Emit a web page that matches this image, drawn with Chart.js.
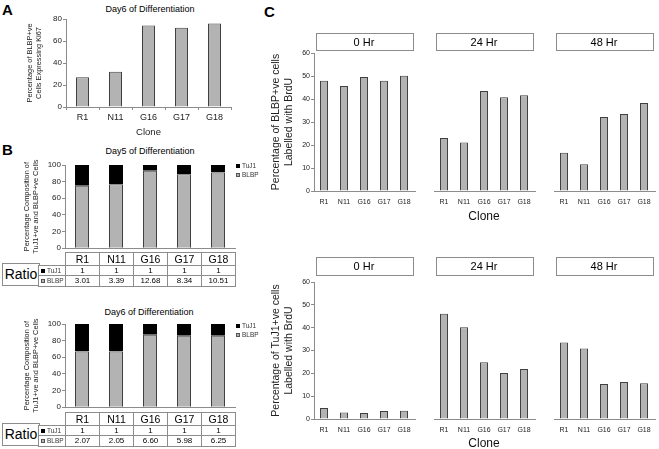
<!DOCTYPE html>
<html>
<head>
<meta charset="utf-8">
<script src="https://cdn.jsdelivr.net/npm/chart.js@4/dist/chart.umd.min.js"></script>
<style>
  body { margin: 0; background: #fff; width: 659px; height: 449px; position: relative; overflow: hidden;
         font-family: "Liberation Sans", Arial, sans-serif; color: #000; }
  canvas { position: absolute; }
  .letter { position: absolute; font-weight: bold; font-size: 15px; line-height: 15px; }
  .ttl { position: absolute; font-size: 9px; line-height: 10px; text-align: center; width: 140px; }
  .cell { position: absolute; box-sizing: border-box; border: 1px solid #8c8c8c; text-align: center; background: #fff; }
  .leg { position: absolute; font-size: 6.5px; line-height: 9px; color: #333; }
  .sw { display: inline-block; width: 4px; height: 4px; margin-right: 2px; vertical-align: 0; box-sizing: border-box; }
  .sw.t { background: #000; }
  .sw.b { background: #b3b3b3; border: 1px solid #555; }
</style>
</head>
<body>
<div class="letter" style="left:2px;top:2px">A</div>
<div class="letter" style="left:2px;top:142px">B</div>
<div class="letter" style="left:264px;top:4px">C</div>
<div class="ttl" style="left:80px;top:4px">Day6 of Differentiation</div>
<div class="ttl" style="left:80px;top:146px">Day5 of Differentiation</div>
<div class="ttl" style="left:79px;top:307px">Day6 of Differentiation</div>

<canvas id="chartA"></canvas>
<canvas id="chartB5"></canvas>
<canvas id="chartB6"></canvas>
<canvas id="chartC1"></canvas>
<canvas id="chartC2"></canvas>

<script>
const clones = ["R1", "N11", "G16", "G17", "G18"];
const timepoints = ["0 Hr", "24 Hr", "48 Hr"];

// A: % BLBP+ve cells expressing Ki67, day 6
const ki67Day6 = [27, 32, 74, 72, 76];

// B: composition (%) and ratio rows
const blbpDay5 = [75, 77, 93, 89, 91];
const tuj1Day5 = [25, 23, 7, 11, 9];
const ratioTuj1Day5 = ["1", "1", "1", "1", "1"];
const ratioBlbpDay5 = ["3.01", "3.39", "12.68", "8.34", "10.51"];
const blbpDay6 = [67, 67, 87, 86, 86];
const tuj1Day6 = [33, 33, 13, 14, 14];
const ratioTuj1Day6 = ["1", "1", "1", "1", "1"];
const ratioBlbpDay6 = ["2.07", "2.05", "6.60", "5.98", "6.25"];

// C: % labelled with BrdU at each time point
const brduBlbp0 = [47.9, 45.7, 49.6, 47.9, 50.1];
const brduBlbp24 = [23.0, 21.1, 43.5, 40.8, 41.6];
const brduBlbp48 = [16.6, 11.6, 32.2, 33.5, 38.3];
const brduTuj0 = [4.8, 2.9, 2.6, 3.5, 3.6];
const brduTuj24 = [46.1, 40.2, 24.9, 20.1, 21.9];
const brduTuj48 = [33.5, 30.9, 15.3, 16.2, 15.7];

const GREY = "#b3b3b3";
const EDGE = "#404040";
const AXIS = "#8c8c8c";

Chart.defaults.font.family = "'Liberation Sans', Arial, sans-serif";
Chart.defaults.color = "#222";
Chart.defaults.animation = false;
Chart.defaults.plugins.legend.display = false;
Chart.defaults.plugins.tooltip.enabled = false;

function place(id, left, top, width, height) {
  const c = document.getElementById(id);
  c.style.left = left + "px";
  c.style.top = top + "px";
  c.width = width;
  c.height = height;
  return c;
}

function cell(x, y, w, h, text, size, extra) {
  const d = document.createElement("div");
  d.className = "cell";
  d.style.cssText = `left:${x}px;top:${y}px;width:${w + 1}px;height:${h + 1}px;font-size:${size}px;line-height:${h - 1}px;` + (extra || "");
  d.innerHTML = text;
  document.body.appendChild(d);
}

// ratio table under each B chart, columns lined up with the bars
function ratioTable(top, tujRow, blbpRow) {
  const x0 = 65, colW = 34;
  cell(2, top + 11, 37, 22, "Ratio", 14);
  cell(38, top + 13, 27, 10, '<span class="sw t"></span>TuJ1', 6.5, "text-align:left;padding-left:2px;color:#333;");
  cell(38, top + 23, 27, 11, '<span class="sw b"></span>BLBP', 6.5, "text-align:left;padding-left:2px;color:#333;");
  clones.forEach((c, i) => {
    cell(x0 + i * colW, top, colW, 13, c, 10.5);
    cell(x0 + i * colW, top + 13, colW, 10, tujRow[i], 8);
    cell(x0 + i * colW, top + 23, colW, 11, blbpRow[i], 8);
  });
}

function legendB(top) {
  const d = document.createElement("div");
  d.className = "leg";
  d.style.left = "236px";
  d.style.top = top + "px";
  d.innerHTML = '<span class="sw t"></span>TuJ1<br><span class="sw b"></span>BLBP';
  document.body.appendChild(d);
}

// facet header boxes + broken x axis for panel C
const facetPlugin = {
  id: "facets",
  afterDraw(chart, args, opts) {
    const { ctx, chartArea, scales: { x } } = chart;
    const slot = x.getPixelForValue(1) - x.getPixelForValue(0);
    ctx.save();
    opts.groups.forEach((g, i) => {
      const a = x.getPixelForValue(g[0]) - slot / 2;
      const b = x.getPixelForValue(g[1]) + slot / 2;
      ctx.strokeStyle = AXIS;
      ctx.lineWidth = 1;
      ctx.beginPath();
      ctx.moveTo(a, chartArea.bottom + 0.5);
      ctx.lineTo(b + 2, chartArea.bottom + 0.5);
      ctx.stroke();
      const y1 = chartArea.top - opts.gap - opts.height;
      ctx.fillStyle = "#fff";
      ctx.fillRect(a + 2, y1, b - a - 3, opts.height);
      ctx.strokeRect(Math.round(a + 2) + 0.5, Math.round(y1) + 0.5, Math.round(b - a - 3), opts.height);
      ctx.fillStyle = "#000";
      ctx.font = "11px 'Liberation Sans', Arial, sans-serif";
      ctx.textAlign = "center";
      ctx.textBaseline = "middle";
      ctx.fillText(opts.labels[i], (a + b) / 2, y1 + opts.height / 2 + 1);
    });
    ctx.restore();
  }
};

function yAxis(max, step, size, title, titleSize, width) {
  return {
    min: 0, max: max,
    ticks: { stepSize: step, font: { size: size }, padding: 1, color: "#222" },
    grid: { drawOnChartArea: false, tickLength: 3, color: AXIS },
    border: { color: AXIS },
    title: { display: true, text: title, font: { size: titleSize }, padding: 0, color: "#222" },
    afterFit: s => { s.width = width; }
  };
}

// ---- A  (plot 66..231, 33px per clone, 13px bars)
new Chart(place("chartA", 0, 0, 236, 140), {
  type: "bar",
  data: {
    labels: clones,
    datasets: [{ data: ki67Day6, backgroundColor: GREY, borderColor: EDGE, borderWidth: 1,
                 barPercentage: 13 / 33, categoryPercentage: 1 }]
  },
  options: {
    responsive: false,
    layout: { padding: { left: 26, top: 19, right: 5, bottom: 0 } },
    scales: {
      x: {
        grid: { drawOnChartArea: false, tickLength: 3, color: AXIS },
        border: { color: AXIS },
        ticks: { font: { size: 9 }, padding: 2, color: "#222" },
        title: { display: true, text: "Clone", font: { size: 9.5 }, padding: { top: 0, bottom: 2 }, color: "#222" },
        afterFit: s => { s.height = 33; }
      },
      y: yAxis(80, 20, 8, ["Percentage of BLBP+ve", "Cells Expressing Ki67"], 7.4, 40)
    }
  }
});

// ---- B  (plot 65..235, 34px per clone, 14px bars)
function compositionChart(id, top, padTop, blbp, tuj1) {
  new Chart(place(id, 0, top, 236, padTop + 89), {
    type: "bar",
    data: {
      labels: clones,
      datasets: [
        { label: "BLBP", data: blbp, backgroundColor: GREY, borderColor: EDGE, borderWidth: 1,
          barPercentage: 14 / 34, categoryPercentage: 1 },
        { label: "TuJ1", data: tuj1, backgroundColor: "#000", borderColor: "#000", borderWidth: 1,
          barPercentage: 14 / 34, categoryPercentage: 1 }
      ]
    },
    options: {
      responsive: false,
      layout: { padding: { left: 23, top: padTop, right: 1, bottom: 0 } },
      scales: {
        x: {
          stacked: true,
          ticks: { display: false },
          grid: { display: false },
          border: { color: AXIS },
          afterFit: s => { s.height = 2; }
        },
        y: Object.assign(yAxis(100, 20, 8, ["Percentage Composition of", "TuJ1+ve and BLBP+ve Cells"], 7.4, 42), { stacked: true })
      }
    }
  });
}
compositionChart("chartB5", 140, 25, blbpDay5, tuj1Day5);
compositionChart("chartB6", 300, 24, blbpDay6, tuj1Day6);
ratioTable(252, ratioTuj1Day5, ratioBlbpDay5);
ratioTable(412, ratioTuj1Day6, ratioBlbpDay6);
legendB(161);
legendB(321);

// ---- C  (plot 314..654, 20px per slot, 8px bars)
const cLabels = [...clones, "", ...clones, "", ...clones];
const facetGroups = [[0, 4], [6, 10], [12, 16]];
function gapped(a, b, c) { return [...a, null, ...b, null, ...c]; }

function brduChart(id, top, height, padTop, xHeight, gap, boxH, titleBottom, values, title) {
  new Chart(place(id, 220, top, 439, height), {
    type: "bar",
    data: {
      labels: cLabels,
      datasets: [{ data: values, backgroundColor: GREY, borderColor: EDGE, borderWidth: 1,
                   barPercentage: 0.4, categoryPercentage: 1 }]
    },
    options: {
      responsive: false,
      layout: { padding: { left: 50, top: padTop, right: 5, bottom: 0 } },
      plugins: { facets: { groups: facetGroups, labels: timepoints, gap: gap, height: boxH } },
      scales: {
        x: {
          grid: { display: false, drawTicks: false },
          border: { display: false },
          ticks: { font: { size: 7 }, padding: 7, color: "#222", autoSkip: false, maxRotation: 0 },
          title: { display: true, text: "Clone", font: { size: 12 }, padding: { top: 0, bottom: titleBottom }, color: "#111" },
          afterFit: s => { s.height = xHeight; }
        },
        y: yAxis(60, 10, 7, title, 10.5, 44)
      }
    },
    plugins: [facetPlugin]
  });
}
brduChart("chartC1", 0, 225, 53, 34, 3, 17, 1, gapped(brduBlbp0, brduBlbp24, brduBlbp48),
          ["Percentage of BLBP+ve cells", "Labelled with BrdU"]);
brduChart("chartC2", 225, 224, 57, 30, 7, 18, -2, gapped(brduTuj0, brduTuj24, brduTuj48),
          ["Percentage of TuJ1+ve cells", "Labelled with BrdU"]);
</script>
</body>
</html>
